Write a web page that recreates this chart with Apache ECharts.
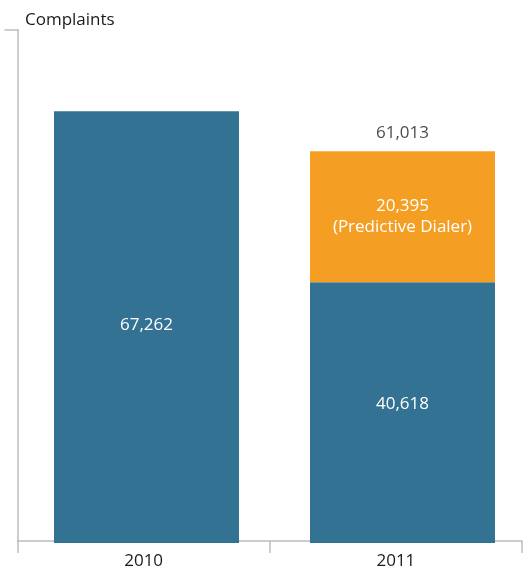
<!DOCTYPE html>
<html>
<head>
<meta charset="utf-8">
<script src="https://cdn.jsdelivr.net/npm/echarts@6/dist/echarts.min.js"></script>
<style>
  html, body { margin: 0; padding: 0; background: #fff; }
  #chart { width: 531px; height: 570px; }
</style>
</head>
<body>
<div id="chart"></div>
<script>
// Complaints per year, split into general and predictive-dialer complaints
const years = ['2010', '2011'];
const baseComplaints = [67262, 40618];
const dialerComplaints = [null, 20395];
const totalComplaints = [null, 61013];
const axisMax = 80000;

const fmt = v => v.toLocaleString('en-US');
const FONT = '"Open Sans", "Noto Sans", sans-serif';
const AXIS_GREY = '#bdbdbd';
const TEXT = '#1a1a1a';

const chart = echarts.init(document.getElementById('chart'), null, { renderer: 'canvas' });

chart.setOption({
  animation: false,
  title: {
    text: 'Complaints',
    left: 25,
    top: 12,
    padding: 0,
    textStyle: { fontFamily: FONT, fontSize: 17, fontWeight: 'normal', color: TEXT }
  },
  // grid 0 carries the visible axes; grid 1 holds the bars, slightly wider bands
  grid: [
    { left: 17.5, right: 9, top: 29.5, bottom: 27 },
    { left: 18.5, right: 0.5, top: 29.5, bottom: 27 }
  ],
  xAxis: [
    {
      type: 'category',
      gridIndex: 0,
      data: years,
      axisLine: { lineStyle: { color: AXIS_GREY, width: 1.5 } },
      axisTick: { show: true, length: 12, lineStyle: { color: AXIS_GREY, width: 1.5 } },
      axisLabel: { fontFamily: FONT, fontSize: 17, color: TEXT, margin: 12 }
    },
    {
      type: 'category',
      gridIndex: 1,
      data: years,
      show: false
    }
  ],
  yAxis: [
    {
      type: 'value',
      gridIndex: 0,
      min: 0,
      max: axisMax,
      interval: axisMax,
      axisLine: { show: true, lineStyle: { color: AXIS_GREY, width: 1.5 } },
      axisTick: { show: true, length: 13, customValues: [axisMax], lineStyle: { color: AXIS_GREY, width: 1.5 } },
      axisLabel: { show: false },
      splitLine: { show: false }
    },
    {
      type: 'value',
      gridIndex: 1,
      min: 0,
      max: axisMax,
      show: false,
      splitLine: { show: false }
    }
  ],
  series: [
    {
      type: 'bar',
      xAxisIndex: 1,
      yAxisIndex: 1,
      stack: 'total',
      data: baseComplaints,
      barWidth: 185,
      itemStyle: { color: '#337292' },
      label: {
        show: true,
        position: 'inside',
        formatter: p => fmt(p.value),
        fontFamily: FONT, fontSize: 17, color: '#fff'
      },
      labelLayout: p => (p.dataIndex === 1 ? { dy: -8 } : { dy: -2 })
    },
    {
      type: 'bar',
      xAxisIndex: 1,
      yAxisIndex: 1,
      stack: 'total',
      data: dialerComplaints,
      barWidth: 185,
      itemStyle: { color: '#f49f24' },
      label: {
        show: true,
        position: 'inside',
        formatter: p => fmt(p.value) + '\n(Predictive Dialer)',
        fontFamily: FONT, fontSize: 17, lineHeight: 21, color: '#fff'
      }
    },
    {
      type: 'scatter',
      xAxisIndex: 1,
      yAxisIndex: 1,
      data: totalComplaints,
      symbolSize: 0,
      silent: true,
      label: {
        show: true,
        position: 'top',
        distance: 10,
        formatter: p => fmt(p.value),
        fontFamily: FONT, fontSize: 17, color: TEXT
      }
    }
  ]
});
</script>
</body>
</html>
